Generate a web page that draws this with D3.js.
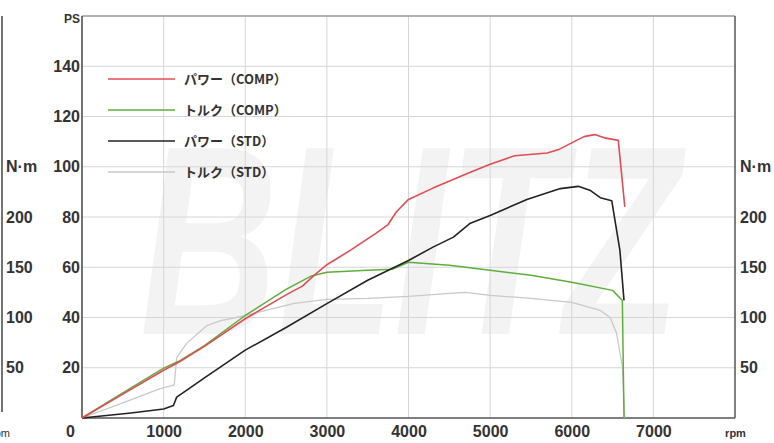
<!DOCTYPE html>
<html>
<head>
<meta charset="utf-8">
<script src="https://cdn.jsdelivr.net/npm/d3@7"></script>
<style>
  body { margin: 0; background: #fff; }
  .tick text { font-family: "Liberation Sans", Arial, sans-serif; font-weight: bold; fill: #333; }
</style>
</head>
<body>
<svg id="chart"></svg>
<script>
// rpm / PS / N·m values
const powerComp = [
    [0, 0], [500, 9.5], [1000, 19], [1200, 22.5], [1500, 28.5], [2000, 39.5], [2500, 49],
    [2700, 52.5], [2850, 57], [3000, 61], [3300, 67], [3600, 73.5], [3750, 77], [3850, 82],
    [4000, 87], [4300, 91.5], [4750, 97.7], [5000, 101], [5300, 104.4], [5700, 105.5],
    [5850, 107], [6000, 109.5], [6150, 112], [6280, 112.8], [6400, 111.5], [6570, 110.5], [6650, 84]
];
const torqueComp = [
    [0, 0], [500, 25], [1000, 49.6], [1200, 57], [1500, 72], [2000, 102], [2500, 128],
    [2800, 141], [3000, 145], [3500, 147], [3800, 148], [4000, 155], [4500, 152], [5000, 147],
    [5500, 142], [6000, 135], [6500, 127], [6620, 117], [6640, 0]
];
const powerStd = [
    [0, 0], [300, 1], [600, 2], [1000, 3.6], [1120, 5], [1160, 8.3], [1280, 11], [1500, 16],
    [2000, 27], [2500, 36], [3000, 45.5], [3500, 54.8], [4000, 62.7], [4300, 68], [4550, 72],
    [4750, 77.4], [5000, 80.6], [5450, 87], [5860, 91.3], [6080, 92.2], [6230, 90.5],
    [6350, 87.7], [6490, 86.5], [6590, 66.7], [6640, 46.8]
];
const torqueStd = [
    [0, 0], [500, 15], [950, 29], [1130, 33], [1160, 60], [1280, 74], [1530, 92], [1700, 97],
    [1950, 101], [2300, 108], [2600, 114], [3000, 118], [3500, 119], [4000, 121], [4500, 124],
    [4700, 125], [5000, 122], [5500, 119], [6000, 115], [6350, 107], [6470, 100], [6550, 84],
    [6620, 51], [6650, 0]
];

const legendLabels = ["パワー（COMP）", "トルク（COMP）", "パワー（STD）", "トルク（STD）"];
const rpmTicks = [0, 1000, 2000, 3000, 4000, 5000, 6000, 7000, 8000];
const psTicks = [20, 40, 60, 80, 100, 120, 140, 160];
const nmTicks = [50, 100, 150, 200, 250];

const width = 774, height = 443;
const svg = d3.select("#chart").attr("width", width).attr("height", height);

const x = d3.scaleLinear().domain([0, 8000]).range([82, 735]);
const yPs = d3.scaleLinear().domain([0, 160]).range([418, 16]);
const yNm = d3.scaleLinear().domain([0, 400]).range([418, 16]);

// faint logo behind the grid
svg.append("text")
    .attr("x", 140)
    .attr("y", 334)
    .attr("textLength", 540)
    .attr("lengthAdjust", "spacingAndGlyphs")
    .attr("font-family", "Liberation Sans, Arial, sans-serif")
    .attr("font-weight", "bold")
    .attr("font-style", "italic")
    .attr("font-size", 270)
    .attr("fill", "#f3f3f3")
    .text("BLITZ");

// grid
svg.append("g")
    .selectAll("line")
    .data(rpmTicks.slice(1, -1))
    .join("line")
    .attr("x1", d => x(d)).attr("x2", d => x(d))
    .attr("y1", yPs(160)).attr("y2", yPs(0))
    .attr("stroke", "#d6d6d6").attr("stroke-width", 1);

svg.append("g")
    .selectAll("line")
    .data(psTicks.slice(0, -1))
    .join("line")
    .attr("x1", x(0)).attr("x2", x(8000))
    .attr("y1", d => yPs(d)).attr("y2", d => yPs(d))
    .attr("stroke", "#d6d6d6").attr("stroke-width", 1);

// frame
svg.append("line").attr("x1", x(0)).attr("x2", x(8000)).attr("y1", yPs(160)).attr("y2", yPs(160))
    .attr("stroke", "#999").attr("stroke-width", 1.5);
svg.append("line").attr("x1", x(8000)).attr("x2", x(8000)).attr("y1", yPs(160)).attr("y2", yPs(0))
    .attr("stroke", "#555").attr("stroke-width", 1.5);
svg.append("line").attr("x1", x(0)).attr("x2", x(8000)).attr("y1", yPs(0)).attr("y2", yPs(0))
    .attr("stroke", "#555").attr("stroke-width", 1.5);
svg.append("line").attr("x1", x(0)).attr("x2", x(0)).attr("y1", yPs(160)).attr("y2", yPs(0))
    .attr("stroke", "#444").attr("stroke-width", 1.5);
svg.append("line").attr("x1", 2).attr("x2", 2).attr("y1", 16).attr("y2", 412)
    .attr("stroke", "#444").attr("stroke-width", 1.5);

// axes (labels only)
const fontSize = 16;

const xAxis = svg.append("g")
    .attr("transform", `translate(0,${yPs(0)})`)
    .call(d3.axisBottom(x).tickValues(rpmTicks).tickSize(0).tickPadding(8)
        .tickFormat(d => d === 8000 ? "rpm" : d));
xAxis.select(".domain").remove();
xAxis.selectAll(".tick text").attr("font-size", fontSize);
xAxis.selectAll(".tick text").filter(d => d === 0).attr("dx", -12);
xAxis.selectAll(".tick text").filter(d => d === 8000)
    .attr("font-size", 11).attr("font-weight", "normal").attr("dy", "1em");

const psAxis = svg.append("g")
    .attr("transform", `translate(${x(0) - 2},0)`)
    .call(d3.axisLeft(yPs).tickValues(psTicks).tickSize(0).tickPadding(0)
        .tickFormat(d => d === 160 ? "PS" : d));
psAxis.select(".domain").remove();
psAxis.selectAll(".tick text").attr("font-size", fontSize);
psAxis.selectAll(".tick text").filter(d => d === 160).attr("font-size", 12).attr("dy", "0.5em");

const nmLeft = svg.append("g")
    .attr("transform", "translate(6,0)")
    .call(d3.axisRight(yNm).tickValues(nmTicks).tickSize(0).tickPadding(0)
        .tickFormat(d => d === 250 ? "N·m" : d));
nmLeft.select(".domain").remove();
nmLeft.selectAll(".tick text").attr("font-size", fontSize).attr("x", 0);

const nmRight = svg.append("g")
    .attr("transform", `translate(${x(8000) + 5},0)`)
    .call(d3.axisRight(yNm).tickValues(nmTicks).tickSize(0).tickPadding(0)
        .tickFormat(d => d === 250 ? "N·m" : d));
nmRight.select(".domain").remove();
nmRight.selectAll(".tick text").attr("font-size", fontSize).attr("x", 0);

// left cut-off rpm label
svg.append("text")
    .attr("x", 10)
    .attr("y", 437)
    .attr("text-anchor", "end")
    .attr("font-family", "Liberation Sans, Arial, sans-serif")
    .attr("font-size", 11)
    .attr("fill", "#333")
    .text("rpm");

// curves
const linePs = d3.line().x(d => x(d[0])).y(d => yPs(d[1]));
const lineNm = d3.line().x(d => x(d[0])).y(d => yNm(d[1]));

const series = [
    { data: torqueStd, line: lineNm, color: "#c9c9c9", width: 1.3 },
    { data: torqueComp, line: lineNm, color: "#5fae3c", width: 1.5 },
    { data: powerStd, line: linePs, color: "#222", width: 1.6 },
    { data: powerComp, line: linePs, color: "#df4d55", width: 1.6 }
];

series.forEach(s => {
    svg.append("path")
        .datum(s.data)
        .attr("d", s.line)
        .attr("fill", "none")
        .attr("stroke", s.color)
        .attr("stroke-width", s.width)
        .attr("stroke-linejoin", "round");
});

// legend
const legendColors = ["#df4d55", "#5fae3c", "#222", "#c9c9c9"];
const legendY = [79, 110, 141, 172];

legendLabels.forEach((label, i) => {
    svg.append("line")
        .attr("x1", 108).attr("x2", 175)
        .attr("y1", legendY[i]).attr("y2", legendY[i])
        .attr("stroke", legendColors[i])
        .attr("stroke-width", 1.5);
    svg.append("text")
        .attr("x", 184)
        .attr("y", legendY[i] + 5)
        .attr("font-family", "Noto Sans CJK JP, sans-serif")
        .attr("font-size", 13)
        .attr("font-weight", "bold")
        .attr("fill", "#333")
        .text(label);
});
</script>
</body>
</html>
